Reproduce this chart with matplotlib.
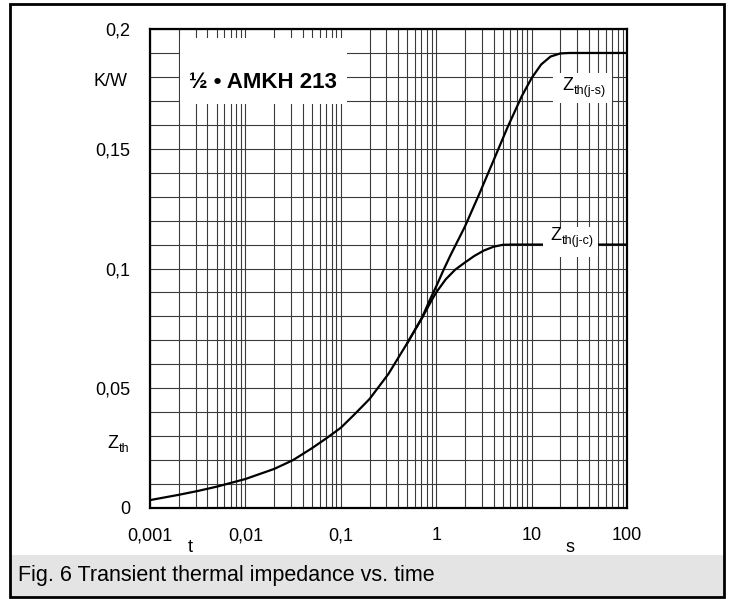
import matplotlib
matplotlib.use("Agg")
import matplotlib.pyplot as plt
from matplotlib.patches import Rectangle
from matplotlib.ticker import FixedLocator, NullFormatter

plt.rcParams["font.family"] = ["Liberation Sans", "DejaVu Sans"]

# Zth(j-s) (t in s, Z in K/W)
t_js = [0.001, 0.002, 0.00316, 0.005, 0.01, 0.02, 0.0316, 0.05, 0.07, 0.1,
        0.14, 0.2, 0.316, 0.5, 0.71, 0.86, 1.0, 1.2, 1.41, 2.0, 2.82, 3.98,
        5.6, 7.9, 10, 12.6, 15.8, 20, 25, 100]
z_js = [0.0033, 0.0055, 0.0071, 0.0089, 0.0121, 0.0163, 0.0200, 0.0250, 0.0290, 0.0335,
        0.0392, 0.0455, 0.0560, 0.0690, 0.0795, 0.0870, 0.0925, 0.0996, 0.1055, 0.1175,
        0.1310, 0.1450, 0.1590, 0.1720, 0.1795, 0.1852, 0.1885, 0.1898, 0.1900, 0.1900]

# Zth(j-c): splits from the common curve near 0.8 s
t_jc = [0.5, 0.71, 0.89, 1.0, 1.26, 1.58, 2.0, 2.5, 3.16, 4.0, 5.0, 6.3, 100]
z_jc = [0.0690, 0.0793, 0.0865, 0.0900, 0.0955, 0.0995, 0.1025, 0.1052, 0.1075,
        0.1091, 0.1099, 0.1100, 0.1100]

x_ticks = [0.001, 0.01, 0.1, 1, 10, 100]
x_labels = ["0,001", "0,01", "0,1", "1", "10", "100"]
y_ticks = [0, 0.05, 0.1, 0.15, 0.2]
y_labels = ["0", "0,05", "0,1", "0,15", "0,2"]

W, H = 735, 599
fig = plt.figure(figsize=(W / 100, H / 100), dpi=100)


def fx(px):
    return px / W


def fy(py):
    return 1 - py / H


# outer frame and caption bar
fig.patches.append(Rectangle((fx(10), fy(597)), fx(714), 42 / H,
                             transform=fig.transFigure, facecolor="#e4e4e4",
                             edgecolor="none", zorder=0))
fig.patches.append(Rectangle((fx(10), fy(597)), fx(714), 593 / H,
                             transform=fig.transFigure, facecolor="none",
                             edgecolor="black", linewidth=2.0, zorder=5))
fig.text(fx(18), fy(576), "Fig. 6 Transient thermal impedance vs. time",
         fontsize=15.5, va="center", ha="left")

ax = fig.add_axes([fx(150), fy(508), 477 / W, 479 / H])
ax.set_xscale("log")
ax.set_xlim(0.001, 100)
ax.set_ylim(0, 0.2)

minor = [m * 10.0 ** e for e in range(-3, 2) for m in range(2, 10)]
ax.xaxis.set_major_locator(FixedLocator(x_ticks))
ax.xaxis.set_minor_locator(FixedLocator(minor))
ax.xaxis.set_minor_formatter(NullFormatter())
ax.set_xticks(x_ticks, x_labels)
ax.set_yticks(y_ticks, y_labels)
ax.yaxis.set_minor_locator(FixedLocator([i * 0.01 for i in range(21)]))
ax.tick_params(which="both", length=0)
ax.tick_params(axis="x", pad=14, labelsize=13)
ax.tick_params(axis="y", pad=14, labelsize=13)
ax.grid(which="both", color="#3a3a3a", linewidth=0.8)
ax.set_axisbelow(True)
for sp in ax.spines.values():
    sp.set_linewidth(1.6)
    sp.set_zorder(6)

ax.plot(t_js, z_js, color="black", linewidth=1.6, zorder=3)
ax.plot(t_jc, z_jc, color="black", linewidth=1.6, zorder=3)


def box(x0, y0, x1, y1):
    # pixel coordinates of the figure converted to axes fraction
    ax.add_patch(Rectangle(((x0 - 150) / 477, (508 - y1) / 479),
                           (x1 - x0) / 477, (y1 - y0) / 479,
                           transform=ax.transAxes, facecolor="white",
                           edgecolor="none", zorder=4))


box(180, 38, 347, 104)
box(553, 73, 612, 103)
box(543, 227, 598, 257)

ax.text((263 - 150) / 477, (508 - 83) / 479, "½ • AMKH 213", transform=ax.transAxes,
        fontsize=16, fontweight="bold", ha="center", va="center", zorder=7)


def zlabel(px, py, sub, size=13, subsize=9):
    fig.text(fx(px), fy(py), "Z", fontsize=size, ha="left", va="center", zorder=7)
    fig.text(fx(px + size * 0.611 * 100 / 72 + 0.5), fy(py + 6), sub,
             fontsize=subsize, ha="left", va="center", zorder=7)


zlabel(562, 85, "th(j-s)")
zlabel(550, 235, "th(j-c)")
zlabel(107, 443, "th")

fig.text(fx(128), fy(81), "K/W", fontsize=13, ha="right", va="center")
fig.text(fx(190), fy(547), "t", fontsize=13, ha="center", va="center")
fig.text(fx(570), fy(547), "s", fontsize=13, ha="center", va="center")

fig.savefig("out.png", dpi=100)
